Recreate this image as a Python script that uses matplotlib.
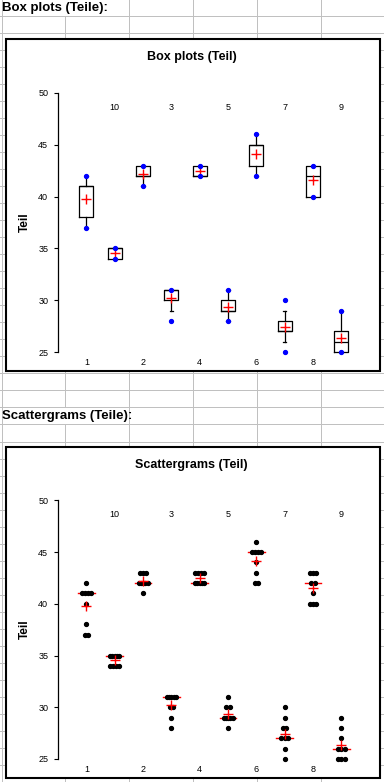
import numpy as np
import matplotlib
matplotlib.use('Agg')
import matplotlib.pyplot as plt
from matplotlib.patches import Rectangle
from collections import Counter

plt.rcParams['font.family'] = ['Liberation Sans', 'DejaVu Sans']

# categories in the (text-sorted) order the sheet uses
categories = ['1', '10', '2', '3', '4', '5', '6', '7', '8', '9']

# measured values per Teil
teil_1 = [42, 41, 41, 41, 41, 40, 38, 37, 37]
teil_10 = [35, 35, 35, 35, 35, 34, 34, 34, 34]
teil_2 = [43, 43, 43, 42, 42, 42, 42, 42, 41]
teil_3 = [31, 31, 31, 31, 31, 30, 30, 29, 28]
teil_4 = [43, 43, 43, 43, 42, 42, 42, 42, 42]
teil_5 = [31, 30, 30, 29, 29, 29, 29, 29, 28]
teil_6 = [46, 45, 45, 45, 45, 44, 43, 42, 42]
teil_7 = [30, 29, 28, 28, 27, 27, 27, 26, 25]
teil_8 = [43, 43, 43, 42, 42, 41, 40, 40, 40]
teil_9 = [29, 28, 27, 26, 26, 26, 25, 25, 25]

groups = [teil_1, teil_10, teil_2, teil_3, teil_4,
          teil_5, teil_6, teil_7, teil_8, teil_9]

W, H = 384, 782
fig = plt.figure(figsize=(W / 100, H / 100), dpi=100)

# spreadsheet background
bg = fig.add_axes([0, 0, 1, 1])
bg.set_xlim(0, W)
bg.set_ylim(H, 0)
bg.axis('off')

grid = '#c0c0c0'
row_lines = 15.5 + 17.04 * np.arange(46)
for y in row_lines:
    bg.plot([0, W], [y, y], color=grid, lw=0.72, zorder=1)
for x in [1.5, 128.5, 192.5, 256.5, 320.5, 383.5]:
    bg.plot([x, x], [0, H], color=grid, lw=0.72, zorder=1)
# column line hidden where the headings overflow
bg.plot([64.5, 64.5], [row_lines[0], row_lines[23]], color=grid, lw=0.72, zorder=1)
bg.plot([64.5, 64.5], [row_lines[24], H], color=grid, lw=0.72, zorder=1)

bg.text(2, 8, 'Box plots (Teile):', fontsize=9.5, fontweight='bold', va='center')
bg.text(2, 416.5, 'Scattergrams (Teile):', fontsize=9.5, fontweight='bold', va='center')

bg.add_patch(Rectangle((5.5, 38.5), 374, 332, fc='white', ec='black', lw=1.5, zorder=3))
bg.add_patch(Rectangle((5.5, 446.5), 374, 331, fc='white', ec='black', lw=1.5, zorder=3))
bg.text(191.5, 57, 'Box plots (Teil)', ha='center', va='center',
        fontsize=9, fontweight='bold', zorder=4)
bg.text(191.5, 465, 'Scattergrams (Teil)', ha='center', va='center',
        fontsize=9, fontweight='bold', zorder=4)


def make_axes(top_px, bottom_px):
    ax = fig.add_axes([58 / W, 1 - bottom_px / H, (369.7 - 58) / W, (bottom_px - top_px) / H])
    ax.patch.set_visible(False)
    for s in ['top', 'right', 'bottom']:
        ax.spines[s].set_visible(False)
    ax.spines['left'].set_linewidth(0.9)
    ax.set_yticks(range(25, 51, 5))
    ax.tick_params(axis='y', direction='out', length=3, width=0.8, labelsize=6.5, pad=4)
    ax.set_xticks([])
    ax.set_ylabel('Teil', fontsize=8.5, fontweight='bold')
    ax.yaxis.set_label_coords(-0.088, 0.5)
    for i, c in enumerate(categories):
        y = 24.03 if i % 2 == 0 else 48.6
        ax.text(i + 1, y, c, ha='center', va='center', fontsize=6.5, clip_on=False)
    return ax


pos = np.arange(1, len(groups) + 1)

# box plots
ax1 = make_axes(93, 352)
line = dict(color='black', lw=0.9)
bp = ax1.boxplot(groups, positions=pos, widths=0.5, whis=1.5, showfliers=False,
                 showmeans=True, capwidths=0.12, manage_ticks=False,
                 boxprops=line, whiskerprops=line, capprops=line, medianprops=line,
                 meanprops=dict(marker='+', markeredgecolor='red', markersize=6.5,
                                markeredgewidth=1.0))
for artists in bp.values():
    for a in artists:
        a.set_clip_on(False)
ax1.plot(pos, [min(g) for g in groups], 'o', color='blue', ms=2.8, ls='none',
         zorder=5, clip_on=False)
ax1.plot(pos, [max(g) for g in groups], 'o', color='blue', ms=2.8, ls='none',
         zorder=5, clip_on=False)
ax1.set_xlim(0, 11)
ax1.set_ylim(25, 50)

# scattergrams
ax2 = make_axes(500.3, 759)
px_per_unit = (369.7 - 58) / 11
for p, g in zip(pos, groups):
    med = np.median(g)
    ax2.plot([p - 0.29, p + 0.29], [med, med], color='red', lw=1.0, zorder=2)
    for v, n in Counter(g).items():
        step = min(3.3, 9 / (n - 1)) / px_per_unit if n > 1 else 0
        xs = p + (np.arange(n) - (n - 1) / 2) * step
        ax2.plot(xs, [v] * n, 'o', color='black', ms=2.8, ls='none', zorder=3,
                 clip_on=False)
    ax2.plot(p, np.mean(g), '+', color='red', ms=6.5, mew=1.0, zorder=4)
ax2.set_xlim(0, 11)
ax2.set_ylim(25, 50)

fig.savefig('out.png', dpi=100)
